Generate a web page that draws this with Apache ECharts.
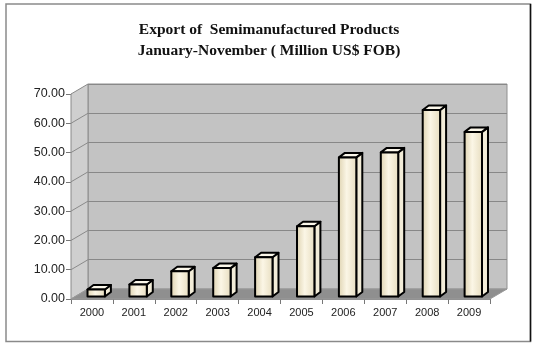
<!DOCTYPE html>
<html>
<head>
<meta charset="utf-8">
<script src="https://cdn.jsdelivr.net/npm/echarts@6/dist/echarts.min.js"></script>
<style>
html,body{margin:0;padding:0;background:#fff;}
#c{width:538px;height:351px;}
</style>
</head>
<body>
<div id="c"></div>
<script>
var categories = ['2000','2001','2002','2003','2004','2005','2006','2007','2008','2009'];
var exportValues = [2.4, 4.1, 8.6, 9.7, 13.4, 24.0, 47.5, 49.2, 63.7, 56.2];
var yTicks = [0, 10, 20, 30, 40, 50, 60, 70];
var titleLines = ['Export of  Semimanufactured Products', 'January-November ( Million US$ FOB)'];

var DX = 17, DY = -10;          // depth of the 3D box
var BAR_F = 0.25;               // bar front depth fraction
var BDX = 6, BDY = -4.5;        // bar depth

var chart = echarts.init(document.getElementById('c'), null, {renderer: 'canvas'});

function wallsRender(params, api) {
  var cs = params.coordSys;
  var x = cs.x, y = cs.y, w = cs.width, h = cs.height;
  var children = [];
  children.push({type: 'polygon', shape: {points: [[x, y + h], [x, y], [x + DX, y + DY], [x + DX, y + h + DY]]},
    style: {fill: '#cfcfcf', stroke: '#8a8a8a', lineWidth: 1}});
  children.push({type: 'polygon', shape: {points: [[x, y + h], [x + w, y + h], [x + w + DX, y + h + DY], [x + DX, y + h + DY]]},
    style: {fill: '#8f8f8f', stroke: '#9a9a9a', lineWidth: 1}});
  for (var k = 1; k < yTicks.length - 1; k++) {
    var p = api.coord([0, yTicks[k]]);
    children.push({type: 'line', shape: {x1: x, y1: p[1], x2: x + DX, y2: p[1] + DY},
      style: {stroke: '#8a8a8a', lineWidth: 1}});
  }
  return {type: 'group', children: children};
}

function barRender(params, api) {
  var i = api.value(0), v = api.value(1);
  var base = api.coord([i, 0]);
  var top = api.coord([i, v]);
  var bw = api.size([1, 0])[0] * 0.415;
  var x0 = base[0] + DX * BAR_F - bw / 2, x1 = x0 + bw;
  var yb = base[1] + DY * BAR_F, yt = top[1] + DY * BAR_F;
  var stroke = {stroke: '#000', lineWidth: 2, lineJoin: 'round'};
  return {type: 'group', children: [
    {type: 'polygon', shape: {points: [[x1, yb], [x1, yt], [x1 + BDX, yt + BDY], [x1 + BDX, yb + BDY]]},
      style: Object.assign({fill: '#f2ecd8'}, stroke)},
    {type: 'polygon', shape: {points: [[x0, yt], [x1, yt], [x1 + BDX, yt + BDY], [x0 + BDX, yt + BDY]]},
      style: Object.assign({fill: '#fbf7ea'}, stroke)},
    {type: 'rect', shape: {x: x0, y: yt, width: bw, height: yb - yt},
      style: Object.assign({fill: new echarts.graphic.LinearGradient(0, 0, 1, 0, [
        {offset: 0, color: '#ddd1ae'}, {offset: 0.45, color: '#fbf6e6'}, {offset: 1, color: '#e6dcbe'}])}, stroke)}
  ]};
}

chart.setOption({
  animation: false,
  backgroundColor: '#fff',
  title: {
    text: titleLines.join('\n'),
    left: 'center', top: 14,
    textStyle: {fontFamily: 'Liberation Serif', fontWeight: 'bold', fontSize: 15.5, lineHeight: 21, color: '#111'}
  },
  graphic: [
    {type: 'rect', shape: {x: 6, y: 4, width: 524.5, height: 337.5}, style: {fill: 'none', stroke: '#8a8a8a', lineWidth: 1.5}, z: 100},
    {type: 'line', shape: {x1: 530.5, y1: 4, x2: 530.5, y2: 341.5}, style: {stroke: '#111', lineWidth: 1.5}, z: 101}
  ],
  grid: [
    {left: 71, right: 48, top: 94, bottom: 52},
    {left: 71 + DX, right: 48 - DX, top: 94 + DY, bottom: 52 - DY, show: true, backgroundColor: '#c3c3c3', borderColor: '#8f8f8f', borderWidth: 1}
  ],
  xAxis: [
    {type: 'category', gridIndex: 0, data: categories, boundaryGap: true,
      axisLine: {show: true, lineStyle: {color: '#8a8a8a', width: 1}},
      axisTick: {show: true, length: 5, lineStyle: {color: '#777'}},
      axisLabel: {fontFamily: 'Liberation Sans', fontSize: 11, color: '#222', margin: 8},
      splitLine: {show: false}},
    {type: 'category', gridIndex: 1, data: categories, show: false}
  ],
  yAxis: [
    {type: 'value', gridIndex: 0, min: 0, max: 70, interval: 10,
      axisLine: {show: true, lineStyle: {color: '#8a8a8a', width: 1}},
      axisTick: {show: true, length: 5, lineStyle: {color: '#777'}},
      axisLabel: {fontFamily: 'Liberation Sans', fontSize: 12.5, color: '#222', margin: 6,
        formatter: function (v) { return v.toFixed(2); }},
      splitLine: {show: false}},
    {type: 'value', gridIndex: 1, min: 0, max: 70, interval: 10,
      axisLine: {show: false}, axisTick: {show: false}, axisLabel: {show: false},
      splitLine: {show: true, lineStyle: {color: '#888', width: 1}}}
  ],
  series: [
    {type: 'custom', xAxisIndex: 0, yAxisIndex: 0, renderItem: wallsRender, data: [[0, 0]], z: 1, silent: true},
    {type: 'custom', xAxisIndex: 0, yAxisIndex: 0, renderItem: barRender, z: 3,
      data: exportValues.map(function (v, i) { return [i, v]; })}
  ]
});
</script>
</body>
</html>
